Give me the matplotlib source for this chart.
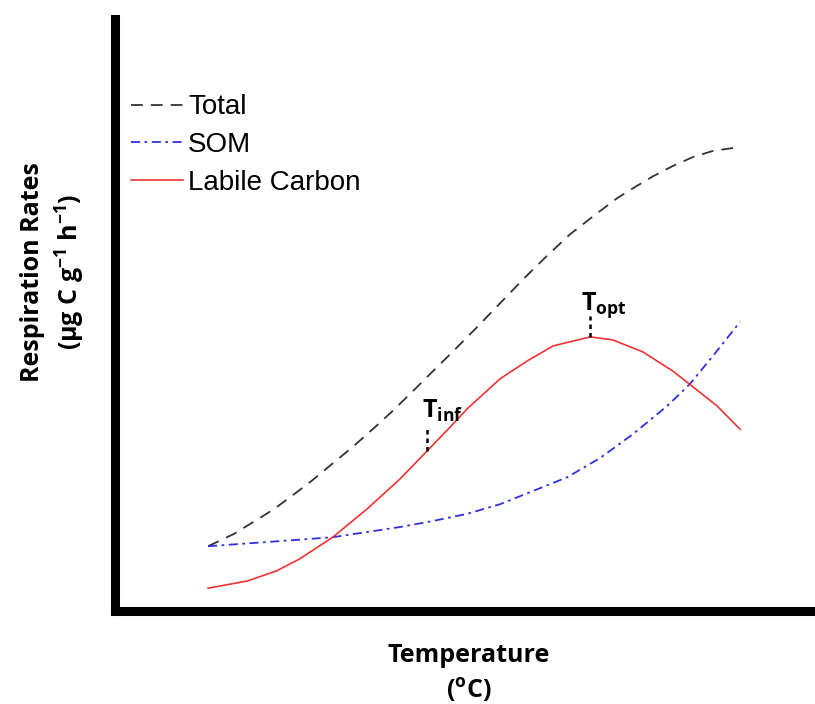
import numpy as np
import matplotlib.pyplot as plt

plt.rcParams['mathtext.fontset'] = 'custom'
plt.rcParams['mathtext.rm'] = 'Open Sans'
plt.rcParams['mathtext.bf'] = 'Open Sans:bold'

# Temperature (arbitrary units) and respiration rates for each pool
temp_total = [13.3, 16.9, 19.7, 22.6, 25.4, 28.3, 31.1, 34.0, 36.9, 39.7, 42.6, 45.0, 48.3,
              51.7, 55.0, 58.3, 61.7, 65.0, 68.3, 71.7, 74.3, 76.9, 79.7, 82.6, 85.4, 88.9]
rate_total = [10.8, 12.8, 14.8, 16.9, 19.3, 21.9, 24.6, 27.4, 30.4, 33.4, 36.7, 39.5, 43.3,
              47.3, 51.3, 55.3, 59.2, 62.8, 65.8, 68.8, 70.7, 72.5, 74.2, 75.7, 76.7, 77.3]

temp_som = [13.3, 21.7, 31.1, 40.7, 45.4, 50.3, 55.0, 59.7, 64.6, 69.3, 74.0, 78.9, 82.1, 85.4, 89.3]
rate_som = [10.8, 11.5, 12.3, 14.0, 15.0, 16.2, 17.8, 20.0, 22.3, 25.5, 29.5, 34.2, 37.8, 42.5, 48.2]

temp_labile = [13.3, 18.9, 23.1, 26.4, 31.1, 36.0, 40.7, 44.6, 47.9, 50.3, 55.0, 58.9, 62.6,
               67.9, 71.1, 75.4, 79.7, 82.1, 86.0, 89.3]
rate_labile = [3.8, 5.0, 6.7, 8.7, 12.3, 17.0, 22.0, 26.7, 30.7, 33.7, 38.7, 41.7, 44.2,
               45.7, 45.2, 43.2, 40.0, 37.8, 34.2, 30.3]

T_inf = 44.6
T_opt = 67.9

fig = plt.figure(figsize=(8.15, 7.04), dpi=100)
ax = fig.add_axes([115 / 815, 1 - 611 / 704, 700 / 815, 592 / 704])

ax.plot(temp_total, rate_total, color='#333333', lw=1.3, dashes=(6.5, 4.5), label='Total')
ax.plot(temp_som, rate_som, color='#2f2fdd', lw=1.3, dashes=(5, 2.5, 1.5, 2.5), label='SOM')
ax.plot(temp_labile, rate_labile, color='#ee3333', lw=1.2, label='Labile Carbon')

# inflection and optimum markers on the labile curve
for t, top in [(T_inf, 30.8), (T_opt, 49.2)]:
    base = np.interp(t, temp_labile, rate_labile)
    ax.plot([t, t], [base, top], color='black', lw=1.8, dashes=(1.8, 1.6))

ax.text(43.8, 32.2, r'T$_{\mathbf{inf}}$', fontsize=18, fontweight='bold',
        family='Open Sans', ha='left', va='baseline')
ax.text(66.6, 50.2, r'T$_{\mathbf{opt}}$', fontsize=18, fontweight='bold',
        family='Open Sans', ha='left', va='baseline')

ax.set_xlim(0, 100)
ax.set_ylim(0, 98.7)
ax.set_xticks([])
ax.set_yticks([])
for side in ['top', 'right']:
    ax.spines[side].set_visible(False)
for side in ['left', 'bottom']:
    ax.spines[side].set_linewidth(6.5)
    ax.spines[side].set_capstyle('projecting')

leg = ax.legend(loc='upper left', bbox_to_anchor=(0.023, 0.8725), frameon=False,
                borderaxespad=0, borderpad=0, handlelength=1.87, handletextpad=0.18,
                labelspacing=0.42, prop={'family': 'Liberation Sans', 'size': 20})

fig.text(469 / 815, 1 - 655 / 704, 'Temperature', fontsize=18, fontweight='bold',
         family='Open Sans', ha='center', va='center')
fig.text(469 / 815, 1 - 690 / 704, r'($^{\mathbf{o}}$C)', fontsize=18, fontweight='bold',
         family='Open Sans', ha='center', va='center')

fig.text(33 / 815, 1 - 272 / 704, 'Respiration Rates', fontsize=18, fontweight='bold',
         family='Open Sans', ha='center', va='center', rotation=90)
fig.text(70 / 815, 1 - 272 / 704, r'(μg C g$^{\mathbf{-1}}$ h$^{\mathbf{-1}}$)', fontsize=18,
         fontweight='bold', family='Open Sans', ha='center', va='center', rotation=90)

fig.savefig('out.png', dpi=100)
